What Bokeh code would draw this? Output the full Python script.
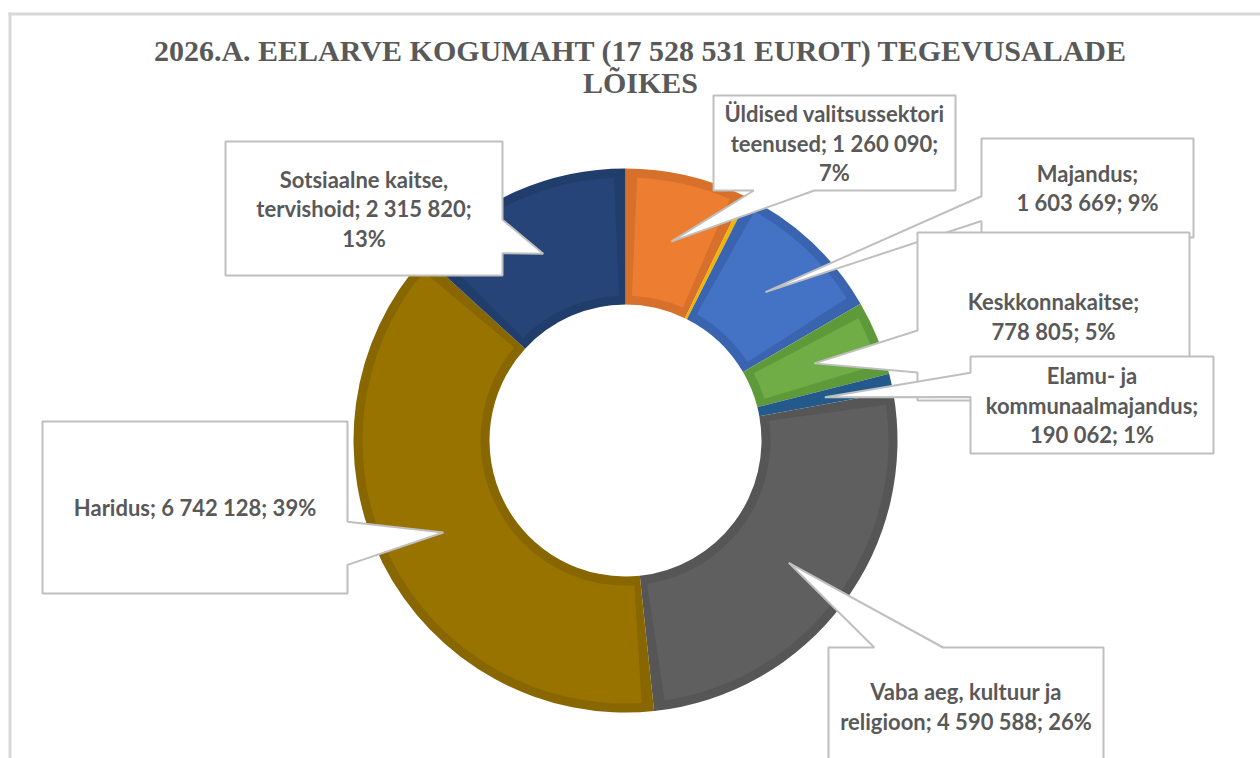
import math
from bokeh.plotting import figure
from bokeh.models import Range1d
from bokeh.embed import file_html
from bokeh.resources import INLINE
from bokeh.core.properties import value

# ---------------- data ----------------
title_lines = ["2026.A. EELARVE KOGUMAHT (17 528 531 EUROT) TEGEVUSALADE", "LÕIKES"]
categories = [
    "Üldised valitsussektori teenused",
    "Avalik kord ja julgeolek",
    "Majandus",
    "Keskkonnakaitse",
    "Elamu- ja kommunaalmajandus",
    "Vaba aeg, kultuur ja religioon",
    "Haridus",
    "Sotsiaalne kaitse, tervishoid",
]
values = [1260090, 47369, 1603669, 778805, 190062, 4590588, 6742128, 2315820]
percents = [7, 0, 9, 5, 1, 26, 39, 13]
show_label = [True, False, True, True, True, True, True, True]

# ---------------- styles ----------------
colors = ["#ED7D31", "#FFC000", "#4472C4", "#70AD47", "#255E91", "#5F5F5F", "#997300", "#264478"]
edge_colors = ["#D6702A", "#F2B600", "#3A64B0", "#5F9A3A", "#245A8B", "#565656", "#886600", "#213D6C"]

# ---------------- layout (pixel space of the page) ----------------
W, H = 1260, 758
def Y(y):
    return H - y

CX, CY = 625, Y(440)
R_OUT, R_IN = 272, 136
R_MID = (R_OUT + R_IN) / 2
BEV = 9
LINE_H = 29.5

# callout boxes (left, top, right, bottom) in page pixels and words per line
boxes = [(713, 95, 955, 190), None, (981, 138, 1193, 237), (917, 232, 1189, 400),
         (970, 356, 1213, 453), (828, 647, 1103, 765), (42, 421, 347, 593), (225, 141, 502, 275)]
words_per_line = [[2, 2, 1], None, [1, 2], [1, 2], [2, 1, 2], [4, 3], [3], [2, 2, 1]]

p = figure(width=W, height=H, x_range=Range1d(0, W), y_range=Range1d(0, H),
           x_axis_type=None, y_axis_type=None, output_backend="svg",
           toolbar_location=None, min_border=0)
p.outline_line_color = None
p.grid.visible = False
p.background_fill_color = "white"
p.border_fill_color = "white"

# chart frame
p.segment(x0=[8, 9.5], y0=[Y(13.5), Y(12)], x1=[W, 9.5], y1=[Y(13.5), 0],
          line_color="#D9D9D9", line_width=3)

# ---------------- donut ----------------
total = sum(values)
starts, ends = [], []
cum = 0
for v in values:
    starts.append(math.pi / 2 - 2 * math.pi * cum / total)
    cum += v
    ends.append(math.pi / 2 - 2 * math.pi * cum / total)

p.annular_wedge(x=CX, y=CY, inner_radius=R_IN, outer_radius=R_OUT,
                start_angle=starts, end_angle=ends, direction="clock",
                fill_color=edge_colors, line_color=None)

inset = BEV / R_MID
ins_s, ins_e, ins_c = [], [], []
for s, e, c in zip(starts, ends, colors):
    if (s - e) > 2.5 * inset:
        ins_s.append(s - inset)
        ins_e.append(e + inset)
        ins_c.append(c)
p.annular_wedge(x=CX, y=CY, inner_radius=R_IN + BEV, outer_radius=R_OUT - BEV,
                start_angle=ins_s, end_angle=ins_e, direction="clock",
                fill_color=ins_c, line_color=None)

# ---------------- callouts ----------------
def callout(box, tip):
    l, t, r, b = box
    w, h = r - l, b - t
    hc, vc = (l + r) / 2, (t + b) / 2
    tx, ty = tip
    dx = (tx - hc) * h
    dy = (ty - vc) * w
    xg1, xg2 = (7, 10) if tx > hc else (2, 5)
    yg1, yg2 = (7, 10) if ty > vc else (2, 5)
    x1, x2 = l + w * xg1 / 12, l + w * xg2 / 12
    y1, y2 = t + h * yg1 / 12, t + h * yg2 / 12
    if abs(dx) > abs(dy):
        if dx > 0:
            pts = [(l, t), (r, t), (r, y1), (tx, ty), (r, y2), (r, b), (l, b)]
        else:
            pts = [(l, t), (r, t), (r, b), (l, b), (l, y2), (tx, ty), (l, y1)]
    else:
        if dy > 0:
            pts = [(l, t), (r, t), (r, b), (x2, b), (tx, ty), (x1, b), (l, b)]
        else:
            pts = [(l, t), (x1, t), (tx, ty), (x2, t), (r, t), (r, b), (l, b)]
    return [q[0] for q in pts], [Y(q[1]) for q in pts]

def fmt(v):
    return f"{v:,}".replace(",", "\u00a0")

xs, ys = [], []
tx_, ty_, tt_ = [], [], []
for i, cat in enumerate(categories):
    if not show_label[i]:
        continue
    a = (starts[i] + ends[i]) / 2
    tip = (CX + R_MID * math.cos(a), Y(CY + R_MID * math.sin(a)))
    px, py = callout(boxes[i], tip)
    xs.append(px)
    ys.append(py)
    full = f"{cat}; {fmt(values[i])}; {percents[i]}%"
    words = full.split(" ")
    lines, k = [], 0
    for n in words_per_line[i]:
        lines.append(" ".join(words[k:k + n]).replace("\u00a0", " "))
        k += n
    l, t, r, b = boxes[i]
    hc, vc = (l + r) / 2, (t + b) / 2
    nl = len(lines)
    for j, ln in enumerate(lines):
        tx_.append(hc)
        ty_.append(Y(vc + (j - (nl - 1) / 2) * LINE_H))
        tt_.append(ln)

p.patches(xs=xs, ys=ys, fill_color="white", line_color="#BFBFBF", line_width=2)
p.text(x=tx_, y=ty_, text=tt_, text_align="center", text_baseline="middle",
       text_font=value("Lato"), text_font_style="bold", text_font_size="22px",
       text_color="#595959")

# ---------------- title ----------------
p.text(x=[640, 640], y=[Y(50), Y(82)], text=title_lines, text_align="center",
       text_baseline="middle", text_font=value("Liberation Serif"),
       text_font_style="bold", text_font_size="30px", text_color="#595959")

open("out.html", "w").write(file_html(p, INLINE))
